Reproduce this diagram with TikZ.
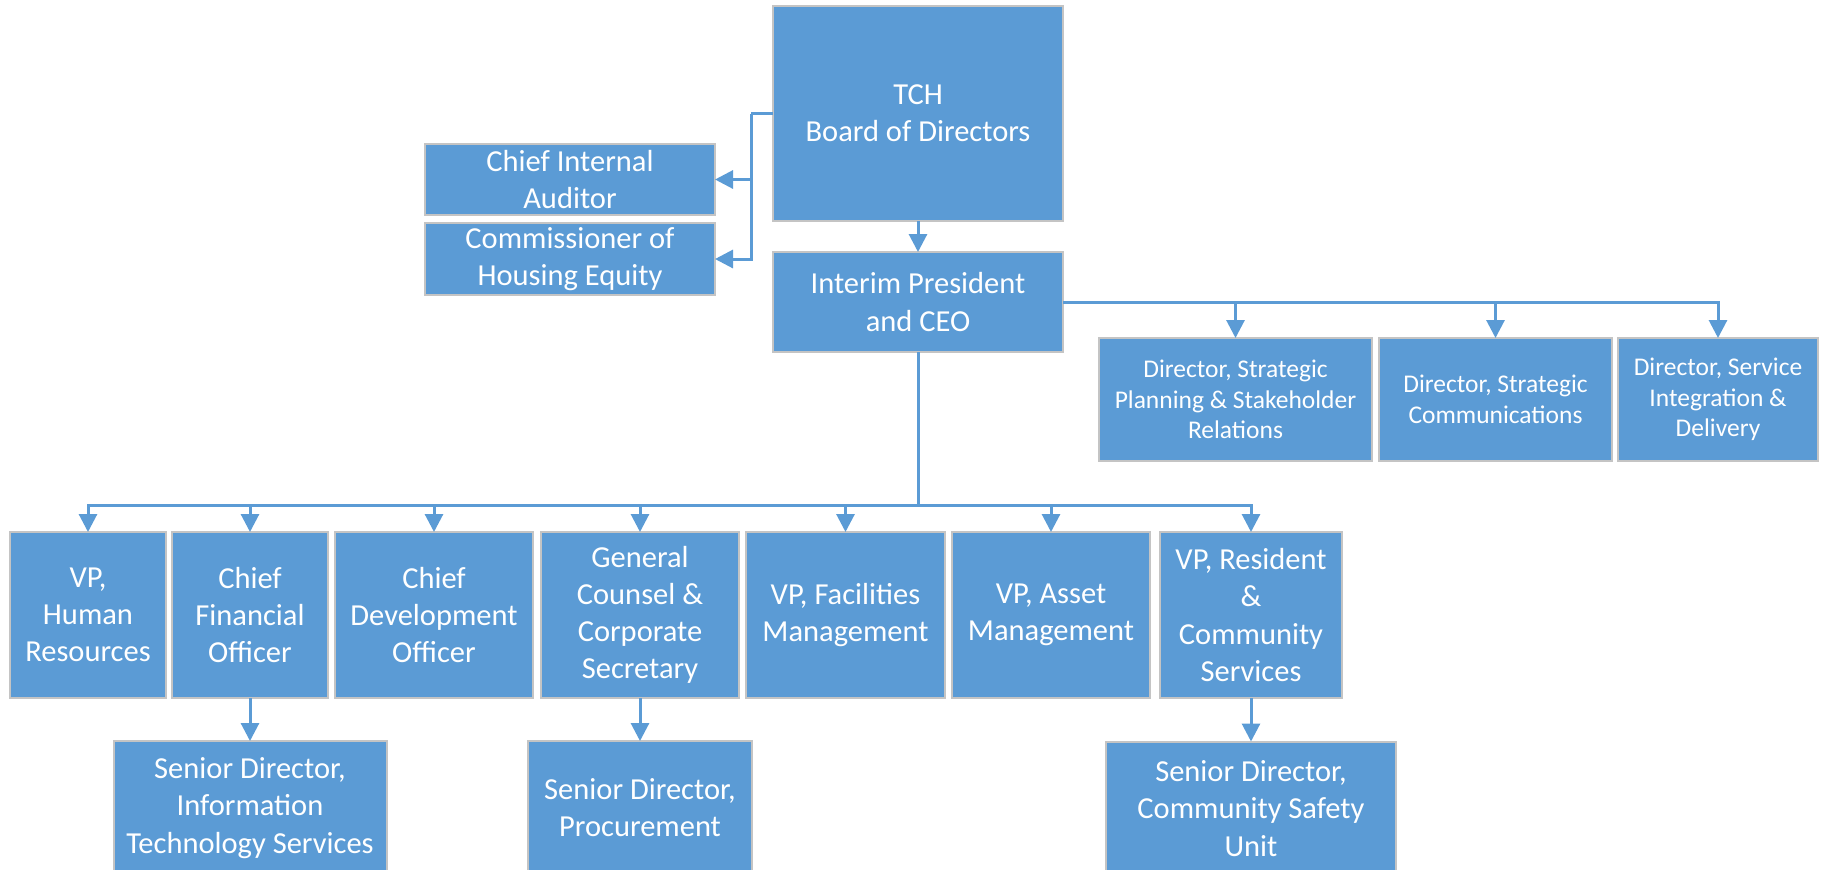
\documentclass[tikz,border=0pt]{standalone}
\usepackage{fontspec}
\setmainfont{Carlito}
\usetikzlibrary{arrows.meta}
\definecolor{boxblue}{HTML}{5B9BD5}
\definecolor{boxedge}{HTML}{C4C4C4}
\begin{document}
\begin{tikzpicture}[x=0.5pt,y=-0.5pt,
  orgbox/.style={draw=boxedge, line width=1pt, fill=boxblue, text=white,
    align=center, inner sep=0pt, outer sep=0pt,
    font=\fontsize{15.25pt}{18.6pt}\selectfont},
  smallbox/.style={orgbox, font=\fontsize{12.75pt}{15.2pt}\selectfont},
  link/.style={draw=boxblue, line width=1.5pt},
  arrowlink/.style={link, -{Triangle[length=9pt,width=9pt]}}]
\useasboundingbox (0,0) rectangle (1821,869);
\clip (0,0) rectangle (1821,869);

% board and direct reports
\node[orgbox, minimum width=145pt, minimum height=107.5pt] (board) at (918,113.5) {TCH\\Board of Directors};
\node[orgbox, minimum width=145pt, minimum height=35.5pt] (cia) at (570,179.5) {Chief Internal\\Auditor};
\node[orgbox, minimum width=145pt, minimum height=36pt] (chc) at (570,259) {Commissioner of\\Housing Equity};
\node[orgbox, minimum width=145pt, minimum height=50pt] (ceo) at (918,302) {Interim President\\and CEO};

% directors reporting to the CEO
\node[smallbox, minimum width=136.5pt, minimum height=61.5pt] (dir1) at (1235.5,399.5) {Director, Strategic\\Planning \& Stakeholder\\Relations};
\node[smallbox, minimum width=116.5pt, minimum height=61.5pt] (dir2) at (1495.5,399.5) {Director, Strategic\\Communications};
\node[smallbox, minimum width=100pt, minimum height=61.5pt] (dir3) at (1718,399.5) {Director, Service\\Integration \&\\Delivery};

% executive row
\node[orgbox, minimum width=78pt, minimum height=83pt] (hr) at (88,615) {VP,\\Human\\Resources};
\node[orgbox, minimum width=78pt, minimum height=83pt] (cfo) at (250,615) {Chief\\Financial\\Officer};
\node[orgbox, minimum width=99pt, minimum height=83pt] (cdo) at (434,615) {Chief\\Development\\Officer};
\node[orgbox, minimum width=99pt, minimum height=83pt] (gc) at (640,615) {General\\Counsel \&\\Corporate\\Secretary};
\node[orgbox, minimum width=99.5pt, minimum height=83pt] (fac) at (845.5,615) {VP, Facilities\\Management};
\node[orgbox, minimum width=99pt, minimum height=83pt] (ast) at (1051,615) {VP, Asset\\Management};
\node[orgbox, minimum width=91pt, minimum height=83pt] (res) at (1251,615) {VP, Resident\\\&\\Community\\Services};

% senior directors
\node[orgbox, minimum width=136.5pt, minimum height=67pt] (sdit) at (250,808) {Senior Director,\\Information\\Technology Services};
\node[orgbox, minimum width=112pt, minimum height=67pt] (sdpr) at (640,808) {Senior Director,\\Procurement};
\node[orgbox, minimum width=145pt, minimum height=67pt] (sdcs) at (1251,808.5) {Senior Director,\\Community Safety\\Unit};

% connectors
\coordinate (side) at (751,113.5);
\coordinate (bus) at (918,505);
\draw[link] (board.west) -- (side);
\draw[arrowlink] (side) |- (cia.east);
\draw[arrowlink] (side) |- (chc.east);
\draw[arrowlink] (board.south) -- (ceo.north);

\draw[arrowlink] (ceo.east) -| (dir1.north);
\draw[arrowlink] (ceo.east) -| (dir2.north);
\draw[arrowlink] (ceo.east) -| (dir3.north);

\draw[link] (ceo.south) -- (bus);
\foreach \n in {hr,cfo,cdo,gc,fac,ast,res}
  \draw[arrowlink] (bus) -| (\n.north);

\draw[arrowlink] (cfo.south) -- (sdit.north);
\draw[arrowlink] (gc.south) -- (sdpr.north);
\draw[arrowlink] (res.south) -- (sdcs.north);
\end{tikzpicture}
\end{document}
